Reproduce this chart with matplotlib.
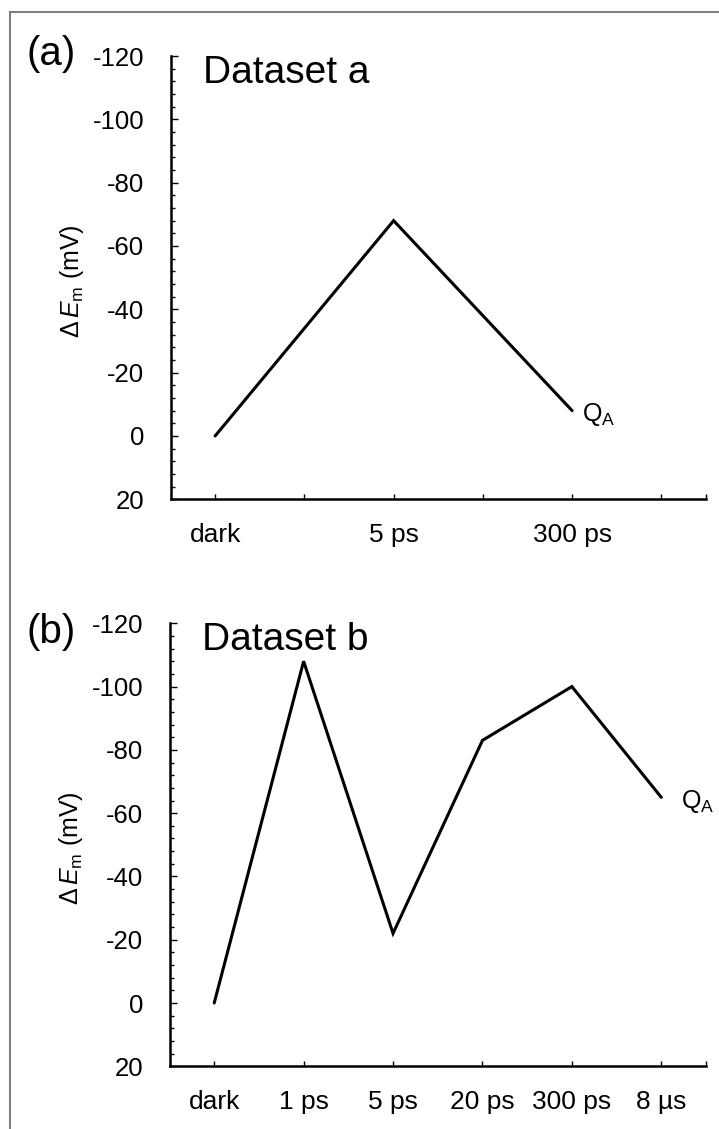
import matplotlib
matplotlib.use('Agg')
import numpy as np
import matplotlib.pyplot as plt
from matplotlib.lines import Line2D
from matplotlib.ticker import MultipleLocator

plt.rcParams['font.family'] = ['Liberation Sans', 'DejaVu Sans']
plt.rcParams['axes.unicode_minus'] = False  # 用连字符显示负号
plt.rcParams['mathtext.fontset'] = 'custom'
plt.rcParams['mathtext.rm'] = 'Liberation Sans'
plt.rcParams['mathtext.it'] = 'Liberation Sans:italic'

# 数据
时间点 = ['dark', '1 ps', '5 ps', '20 ps', '300 ps', '8 µs']
a_时间 = ['dark', '5 ps', '300 ps']
a_值 = [0, -68, -8]
b_时间 = ['dark', '1 ps', '5 ps', '20 ps', '300 ps', '8 µs']
b_值 = [0, -108, -22, -83, -100, -65]
y_刻度 = [-120, -100, -80, -60, -40, -20, 0, 20]

W, H = 719, 1129


def 画子图(rect, 时间, 值, 标题, 标签, 显示全部, qa_dx):
    ax = fig.add_axes(rect)
    x = [时间点.index(t) for t in 时间]
    ax.plot(x, 值, color='black', lw=2.2, solid_capstyle='round', solid_joinstyle='miter')
    ax.set_xlim(-0.5, 5.5)
    ax.set_ylim(20, -120)
    for s in ['top', 'right']:
        ax.spines[s].set_visible(False)
    for s in ['left', 'bottom']:
        ax.spines[s].set_linewidth(1.8)
    ax.set_yticks(y_刻度)
    ax.set_yticklabels([str(v) for v in y_刻度])
    ax.yaxis.set_minor_locator(MultipleLocator(4))
    ax.tick_params(axis='y', which='major', direction='in', length=5, width=1, pad=19, labelsize=18.5)
    ax.tick_params(axis='y', which='minor', direction='in', length=3.2, width=1)
    xt = list(range(len(时间点))) + [5.5]
    if 显示全部:
        xl = 时间点 + ['']
    else:
        xl = [t if i % 2 == 0 else '' for i, t in enumerate(时间点)] + ['']
    ax.set_xticks(xt)
    ax.set_xticklabels(xl)
    ax.tick_params(axis='x', which='major', direction='in', length=3.6, width=1, pad=17, labelsize=19)
    ax.text(0.0607, 0.9398, 标题, transform=ax.transAxes, fontsize=28, ha='left', va='baseline')
    ax.text(-0.184, 0.492, r'$\Delta\,\mathit{E}_\mathregular{m}$ (mV)', transform=ax.transAxes,
            rotation=90, ha='center', va='center', fontsize=18)
    ax.annotate(r'Q$_\mathregular{A}$', xy=(x[-1], 值[-1]), xytext=(qa_dx, -4),
                textcoords='offset pixels', ha='left', va='center', fontsize=18)
    return ax


fig = plt.figure(figsize=(W / 100, H / 100), dpi=100)

ax1 = 画子图([170.5 / W, 1 - 499.3 / H, 535.5 / W, 443.3 / H], a_时间, a_值, 'Dataset a', '(a)', False, 10)
ax2 = 画子图([169.5 / W, 1 - 1066.3 / H, 536.5 / W, 443.0 / H], b_时间, b_值, 'Dataset b', '(b)', True, 20)

fig.text(26.7 / W, 1 - 65 / H, '(a)', fontsize=29, ha='left', va='baseline')
fig.text(26.7 / W, 1 - 643.3 / H, '(b)', fontsize=29, ha='left', va='baseline')

# 外框
fig.add_artist(Line2D([10 / W, 10 / W], [0, 1 - 12 / H], transform=fig.transFigure, color='#808080', lw=1.5))
fig.add_artist(Line2D([10 / W, 1], [1 - 12 / H, 1 - 12 / H], transform=fig.transFigure, color='#808080', lw=1.5))

fig.savefig('out.png', dpi=100)
